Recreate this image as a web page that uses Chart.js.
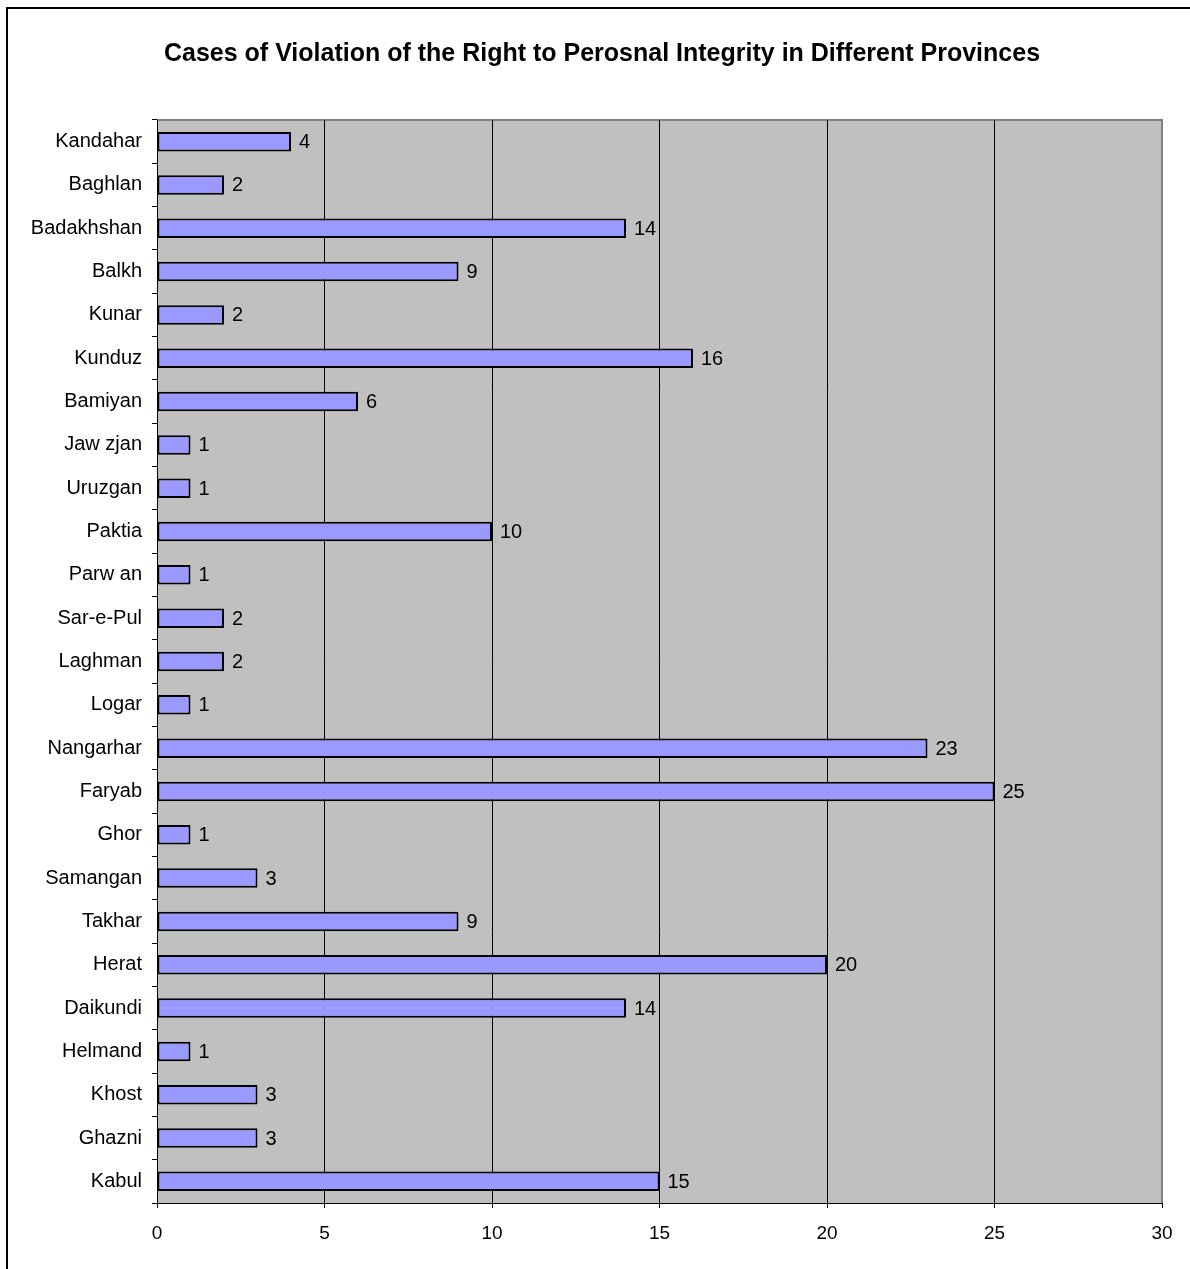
<!DOCTYPE html>
<html>
<head>
<meta charset="utf-8">
<title>Cases of Violation of the Right to Perosnal Integrity in Different Provinces</title>
<script src="https://cdn.jsdelivr.net/npm/chart.js@4.4.1/dist/chart.umd.min.js"></script>
<style>
  html, body { margin: 0; padding: 0; background: #fff; overflow: hidden; }
  #wrap { width: 1190px; height: 1269px; position: relative; }
</style>
</head>
<body>
<div id="wrap"><canvas id="chart" width="1190" height="1269"></canvas></div>
<script>
// Provinces, top to bottom
const provinces = [
  'Kandahar', 'Baghlan', 'Badakhshan', 'Balkh', 'Kunar', 'Kunduz', 'Bamiyan',
  'Jaw zjan', 'Uruzgan', 'Paktia', 'Parw an', 'Sar-e-Pul', 'Laghman', 'Logar',
  'Nangarhar', 'Faryab', 'Ghor', 'Samangan', 'Takhar', 'Herat', 'Daikundi',
  'Helmand', 'Khost', 'Ghazni', 'Kabul'
];
// Number of cases per province
const cases = [
  4, 2, 14, 9, 2, 16, 6,
  1, 1, 10, 1, 2, 2, 1,
  23, 25, 1, 3, 9, 20, 14,
  1, 3, 3, 15
];
// Value axis ticks
const xTicks = [0, 5, 10, 15, 20, 25, 30];
const chartTitle = 'Cases of Violation of the Right to Perosnal Integrity in Different Provinces';

const FONT = "'Liberation Sans', Arial, sans-serif";

// Grey plot background with its frame, plus the outer chart border
const frame = {
  id: 'frame',
  beforeDraw(chart) {
    const { ctx, chartArea: a } = chart;
    ctx.save();
    ctx.fillStyle = '#C0C0C0';
    ctx.fillRect(a.left, a.top, a.right - a.left, a.bottom - a.top);
    ctx.strokeStyle = '#808080';
    ctx.lineWidth = 2;
    ctx.beginPath();
    ctx.moveTo(a.left, a.top);
    ctx.lineTo(a.right, a.top);
    ctx.lineTo(a.right, a.bottom);
    ctx.stroke();
    ctx.strokeStyle = '#000';
    ctx.lineWidth = 2;
    ctx.strokeRect(7, 8, chart.width + 20, chart.height + 20);
    ctx.restore();
  }
};

// Heading centred inside the outer border
const heading = {
  id: 'heading',
  afterDraw(chart) {
    const { ctx } = chart;
    ctx.save();
    ctx.font = 'bold 25px ' + FONT;
    ctx.fillStyle = '#000';
    ctx.textAlign = 'center';
    ctx.textBaseline = 'middle';
    ctx.fillText(chartTitle, (chart.width + 14) / 2, 54);
    ctx.restore();
  }
};

// Value printed at the end of each bar
const barValues = {
  id: 'barValues',
  afterDatasetsDraw(chart) {
    const { ctx } = chart;
    const meta = chart.getDatasetMeta(0);
    ctx.save();
    ctx.font = '20px ' + FONT;
    ctx.fillStyle = '#000';
    ctx.textAlign = 'left';
    ctx.textBaseline = 'middle';
    meta.data.forEach((bar, i) => {
      ctx.fillText(String(chart.data.datasets[0].data[i]), bar.x + 8, bar.y + 1);
    });
    ctx.restore();
  }
};

new Chart(document.getElementById('chart'), {
  type: 'bar',
  data: {
    labels: provinces,
    datasets: [{
      data: cases,
      backgroundColor: '#9999FF',
      borderColor: '#000',
      borderWidth: 2,
      borderSkipped: false,
      barPercentage: 0.45,
      categoryPercentage: 1
    }]
  },
  options: {
    indexAxis: 'y',
    responsive: false,
    animation: false,
    layout: { padding: { left: 0, right: 28, top: 120, bottom: 0 } },
    plugins: {
      legend: { display: false },
      tooltip: { enabled: false },
      title: { display: false }
    },
    scales: {
      x: {
        type: 'linear',
        min: 0,
        max: 30,
        afterBuildTicks(scale) { scale.ticks = xTicks.map(v => ({ value: v })); },
        afterFit(scale) { scale.height = 66; },
        grid: {
          color: c => (c.tick && c.tick.value === 30 ? '#808080' : '#000'),
          tickColor: '#000',
          lineWidth: 1,
          tickLength: 5,
          drawTicks: true
        },
        border: { display: true, color: '#000', width: 1 },
        ticks: {
          color: '#000',
          padding: 14,
          maxRotation: 0,
          font: { family: FONT, size: 19 }
        }
      },
      y: {
        afterFit(scale) { scale.width = 157; },
        grid: {
          offset: true,
          drawOnChartArea: false,
          drawTicks: true,
          tickLength: 5,
          color: '#000'
        },
        border: { display: true, color: '#000', width: 1 },
        ticks: {
          color: '#000',
          padding: 10,
          autoSkip: false,
          font: { family: FONT, size: 20 }
        }
      }
    }
  },
  plugins: [frame, barValues, heading]
});
</script>
</body>
</html>
